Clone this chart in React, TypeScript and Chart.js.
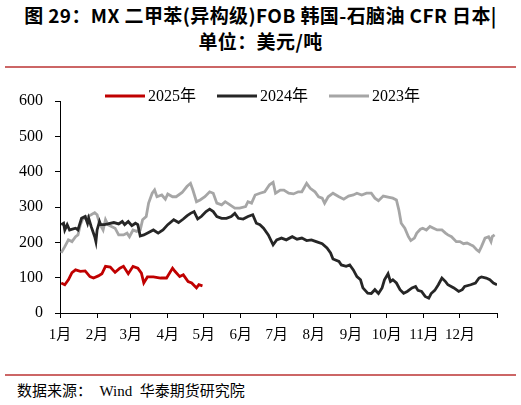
import React, { useEffect, useRef } from "react";
import { Chart, registerables } from "chart.js";

Chart.register(...registerables);

// ---- data (day of year, USD/t) ----
const monthStarts = [0, 31, 59, 90, 120, 151, 181, 212, 243, 273, 304, 334, 365];
const monthLabels = ["1月", "2月", "3月", "4月", "5月", "6月", "7月", "8月", "9月", "10月", "11月", "12月", ""];
const yTicks = [0, 100, 200, 300, 400, 500, 600];

const days2025 = [1, 4, 7, 10, 13, 17, 21, 25, 28, 32, 35, 38, 42, 46, 50, 53, 57, 61, 65, 68, 70, 73, 78, 84, 89, 94, 96, 100, 103, 107, 110, 114, 116, 119];
const values2025 = [85, 80, 94, 114, 122, 118, 119, 103, 99, 105, 111, 132, 130, 115, 127, 132, 111, 132, 127, 113, 85, 102, 102, 99, 99, 127, 118, 103, 108, 89, 85, 71, 80, 77];

const days2024 = [1, 3, 4, 6, 8, 13, 15, 18, 21, 23, 24, 26, 29, 30, 31, 33, 34, 37, 40, 45, 49, 52, 54, 57, 60, 63, 65, 67, 70, 74, 78, 82, 86, 90, 95, 99, 103, 106, 109, 112, 115, 118, 122, 125, 128, 131, 135, 139, 143, 146, 149, 153, 157, 161, 164,
  167, 170, 174, 178, 181, 185, 189, 194, 198, 202, 206, 210, 214, 219, 223, 226, 228, 233, 235, 239, 242, 245, 248, 251, 253, 257, 260, 263, 266, 269, 271, 274, 276, 278, 281, 284, 287, 290, 294, 297, 299, 302, 305, 308, 310, 313, 316, 319, 322, 324, 329, 333, 336, 338, 343, 347, 350, 352, 356, 359, 362, 365];
const values2024 = [250, 254, 235, 250, 235, 240, 235, 268, 273, 254, 268, 245, 216, 202, 235, 259, 250, 250, 252, 256, 252, 259, 250, 259, 247, 254, 250, 218, 221, 228, 235, 226, 235, 250, 264, 256, 266, 275, 282, 287, 266, 273, 287, 294, 287, 273, 268, 268, 273, 282, 268, 266, 273, 278, 254,
  250, 240, 221, 193, 207, 212, 207, 216, 209, 212, 205, 207, 202, 196, 184, 170, 153, 146, 136, 132, 136, 122, 103, 94, 71, 56, 55, 66, 55, 71, 94, 111, 89, 94, 85, 66, 56, 61, 71, 75, 64, 61, 47, 42, 55, 64, 80, 99, 89, 80, 71, 61, 66, 75, 80, 85, 99, 102, 99, 94, 85, 80];

const days2023 = [1, 4, 7, 10, 13, 15, 17, 19, 23, 26, 29, 31, 33, 36, 38, 40, 43, 46, 49, 53, 56, 58, 61, 64, 67, 69, 72, 74, 77, 79, 81, 85, 88, 90, 94, 97, 102, 106, 109, 111, 114, 117, 121, 125, 128, 131, 135, 138, 142, 146, 150, 155, 157, 160, 163,
  167, 171, 175, 178, 180, 184, 187, 191, 195, 199, 202, 206, 209, 213, 216, 219, 221, 224, 228, 233, 237, 241, 245, 248, 252, 256, 260, 263, 266, 270, 274, 278, 281, 283, 285, 288, 291, 293, 296, 298, 301, 303, 306, 309, 312, 315, 319, 322, 324, 327, 331, 334, 337, 340, 343, 345, 348, 350, 352, 355, 358, 360, 361, 363];
const values2023 = [170, 188, 207, 202, 216, 221, 250, 266, 273, 278, 284, 278, 254, 235, 264, 250, 245, 240, 221, 221, 226, 216, 235, 231, 235, 264, 273, 311, 339, 348, 329, 334, 322, 337, 329, 329, 341, 358, 367, 348, 315, 320, 329, 343, 339, 311, 306, 315, 306, 297, 297, 301, 315, 311, 334,
  339, 343, 363, 370, 339, 348, 348, 339, 337, 343, 343, 367, 353, 343, 329, 325, 311, 329, 339, 329, 322, 331, 334, 339, 334, 339, 339, 325, 318, 331, 328, 325, 320, 292, 254, 240, 216, 205, 212, 226, 237, 240, 235, 245, 240, 235, 235, 226, 221, 216, 202, 202, 196, 198, 193, 190, 179, 174, 188, 212, 216, 202, 216, 221];

const seriesNames = ["2025年", "2024年", "2023年"];
const seriesColors = ["#c00000", "#262626", "#a6a6a6"];

const SERIF = '"Liberation Serif", "Noto Sans CJK SC", serif';

const legendPlugin = {
  id: "customLegend",
  afterDraw(chart: any) {
    const ctx = chart.ctx;
    ctx.save();
    ctx.font = `16px ${SERIF}`;
    ctx.textBaseline = "middle";
    const items = chart.data.datasets.map((ds: any) => ({
      label: ds.label,
      color: ds.borderColor,
      w: ctx.measureText(ds.label).width,
    }));
    const lineLen = 40, gap = 3, spacing = 21;
    const total = items.reduce((s: number, it: any) => s + lineLen + gap + it.w, 0) + spacing * (items.length - 1);
    let x = chart.width / 2 - total / 2 + 2;
    const y = chart.chartArea.top - 5;
    items.forEach((it: any) => {
      ctx.strokeStyle = it.color;
      ctx.lineWidth = 3;
      ctx.beginPath();
      ctx.moveTo(x, y);
      ctx.lineTo(x + lineLen, y);
      ctx.stroke();
      ctx.fillStyle = "#000";
      ctx.textAlign = "left";
      ctx.fillText(it.label, x + lineLen + gap, y + 1);
      x += lineLen + gap + it.w + spacing;
    });
    ctx.restore();
  },
};

export default function App() {
  const ref = useRef<HTMLCanvasElement | null>(null);
  useEffect(() => {
    if (!ref.current) return;
    const mk = (d: number[], v: number[]) => d.map((x, i) => ({ x, y: v[i] }));
    const chart = new Chart(ref.current, {
      type: "line",
      data: {
        datasets: [
          { label: seriesNames[0], data: mk(days2025, values2025), borderColor: seriesColors[0], order: 0 },
          { label: seriesNames[1], data: mk(days2024, values2024), borderColor: seriesColors[1], order: 1 },
          { label: seriesNames[2], data: mk(days2023, values2023), borderColor: seriesColors[2], order: 2 },
        ].map((ds) => ({ ...ds, borderWidth: 2.8, pointRadius: 0, tension: 0, fill: false, backgroundColor: ds.borderColor })),
      },
      options: {
        animation: false,
        responsive: false,
        devicePixelRatio: 1,
        layout: { padding: { top: 26, right: 24, left: 0, bottom: 0 } },
        plugins: { legend: { display: false }, tooltip: { enabled: false } },
        scales: {
          x: {
            type: "linear",
            min: 0,
            max: 365,
            afterBuildTicks: (scale: any) => {
              scale.ticks = monthStarts.map((value) => ({ value }));
            },
            afterFit: (scale: any) => {
              scale.height = 37;
            },
            ticks: {
              autoSkip: false,
              maxRotation: 0,
              padding: 8,
              color: "#000",
              font: { family: SERIF, size: 15 },
              callback: (_v: any, i: number) => monthLabels[i],
            },
            grid: { drawOnChartArea: false, drawTicks: true, tickLength: 5, color: "#000", lineWidth: 1 },
            border: { display: true, color: "#000", width: 1 },
          },
          y: {
            min: 0,
            max: 600,
            afterBuildTicks: (scale: any) => {
              scale.ticks = yTicks.map((value) => ({ value }));
            },
            afterFit: (scale: any) => {
              scale.width = 60;
            },
            ticks: {
              padding: 12,
              color: "#000",
              font: { family: SERIF, size: 16 },
            },
            grid: { drawOnChartArea: false, drawTicks: true, tickLength: 5, color: "#000", lineWidth: 1 },
            border: { display: true, color: "#000", width: 1 },
          },
        },
      },
      plugins: [legendPlugin],
    });
    return () => chart.destroy();
  }, []);

  return (
    <div style={{ position: "absolute", left: 0, top: 0, width: 521, height: 405, background: "#fff", overflow: "hidden" }}>
      <div
        style={{
          position: "absolute",
          left: 0,
          top: 2,
          width: 521,
          textAlign: "center",
          fontFamily: '"Noto Sans CJK SC", sans-serif',
          fontWeight: 700,
          fontSize: 19,
          letterSpacing: 0.4,
          lineHeight: "26px",
          color: "#000",
          whiteSpace: "nowrap",
        }}
      >
        图 29：MX 二甲苯(异构级)FOB 韩国-石脑油 CFR 日本|
        <br />
        单位：美元/吨
      </div>
      <div style={{ position: "absolute", left: 5, top: 66, width: 511, height: 2, background: "#c66" }} />
      <div style={{ position: "absolute", left: 0, top: 75, width: 521, height: 275 }}>
        <canvas ref={ref} width={521} height={275} />
      </div>
      <div style={{ position: "absolute", left: 5, top: 374, width: 511, height: 2, background: "#c66" }} />
      <div
        style={{
          position: "absolute",
          left: 17,
          top: 381,
          fontFamily: SERIF,
          fontSize: 15,
          lineHeight: "20px",
          color: "#000",
          whiteSpace: "pre",
        }}
      >
        {"数据来源：  Wind  华泰期货研究院"}
      </div>
    </div>
  );
}
